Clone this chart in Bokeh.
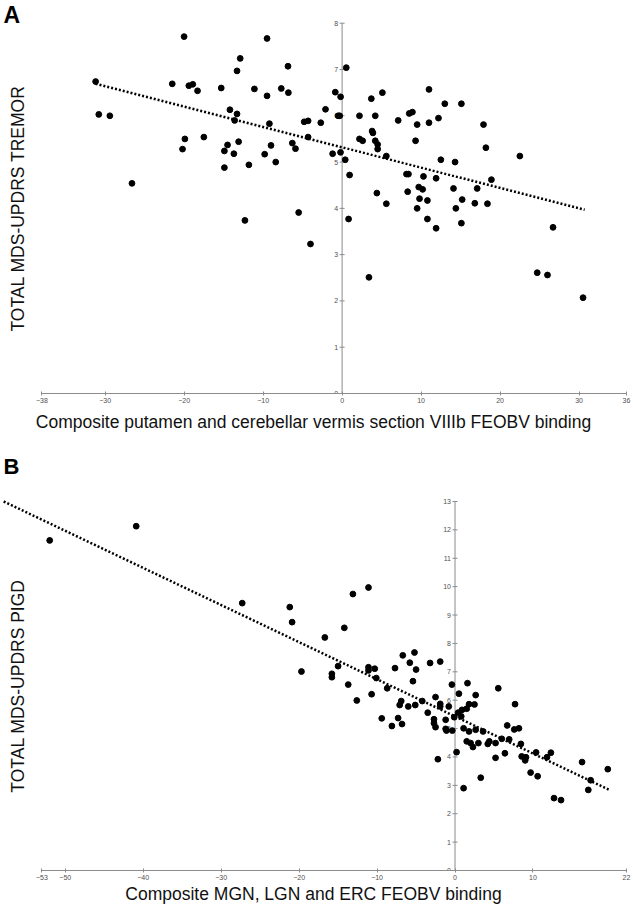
import math
from bokeh.plotting import figure
from bokeh.models import Range1d, LinearAxis, FixedTicker, Label
from bokeh.layouts import column
from bokeh.embed import file_html
from bokeh.resources import INLINE

# ---------------- Panel A data ----------------
A_x = [-20.0, -31.2, -21.5, -19.4, -18.9, -18.3, -30.8, -29.4, -19.9, -17.5, -20.2, -26.6,
       -9.5, -12.9, -13.3, -6.85, 0.53, -15.3, -11.1, -7.7, -9.5, -6.8, -0.86, -0.19,
       -14.2, -13.3, -13.6, -2.1, -9.2, -4.8, -4.3, -2.7, -0.5, -0.3, -4.3, -14.5,
       -14.9, -13.1, -13.7, -9.0, -9.8, -6.3, -5.9, -1.2, -0.2, 0.4, -14.9, -11.8,
       -8.4, 0.95, -12.3, -5.5, 0.82, -4.0,
       11.0, 5.1, 3.7, 13.0, 15.1, 2.2, 4.2, 7.1, 8.5, 8.9, 9.5, 11.0, 12.2, 17.9,
       3.8, 3.9, 2.2, 2.6, 4.2, 4.5, 4.5, 9.3, 5.6, 18.2, 12.5, 14.3, 8.15, 8.4,
       10.3, 11.9, 18.9, 9.7, 10.2, 14.1, 17.1, 4.4, 8.3, 9.8, 10.8, 15.2, 5.6, 9.5,
       14.4, 16.8, 18.4, 10.8, 11.9, 15.1, 3.4,
       22.5, 24.7, 26.0, 26.7, 30.5]
A_y = [7.71, 6.74, 6.69, 6.65, 6.68, 6.54, 6.03, 6.0, 5.50, 5.54, 5.28, 4.54,
       7.67, 7.24, 6.97, 7.07, 7.04, 6.60, 6.58, 6.59, 6.43, 6.50, 6.51, 6.41,
       6.13, 6.04, 5.90, 6.14, 5.83, 5.87, 5.89, 5.85, 6.0, 6.0, 5.54, 5.37,
       5.24, 5.44, 5.18, 5.36, 5.17, 5.41, 5.29, 5.18, 5.21, 5.05, 4.88, 4.94,
       5.0, 4.72, 3.74, 3.91, 3.77, 3.23,
       6.57, 6.50, 6.37, 6.26, 6.26, 6.0, 6.0, 5.90, 6.05, 6.08, 5.81, 5.85, 5.95, 5.81,
       5.67, 5.63, 5.50, 5.46, 5.46, 5.38, 5.28, 5.46, 5.13, 5.31, 5.05, 5.0, 4.74, 4.74,
       4.69, 4.65, 4.62, 4.46, 4.41, 4.43, 4.43, 4.33, 4.36, 4.21, 4.17, 4.19, 4.10, 4.0,
       4.0, 4.11, 4.10, 3.77, 3.57, 3.68, 2.51,
       5.13, 2.61, 2.56, 3.59, 2.07]
A_fit_x = [-31.2, 30.7]
A_fit_y = [6.69, 3.97]
A_xticks = [-38, -30, -20, -10, 0, 10, 20, 30, 36]
A_yticks = [0, 1, 2, 3, 4, 5, 6, 7, 8]
A_xlabel = "Composite putamen and cerebellar vermis section VIIIb FEOBV binding"
A_ylabel = "TOTAL MDS-UPDRS TREMOR"

# ---------------- Panel B data ----------------
B_x = [-52.0, -40.9, -27.3, -21.2, -20.9, -13.1, -11.1, -14.2, -16.7, -6.7, -5.2,
       -19.7, -15.8, -15.8, -15.0, -13.7, -12.6, -11.1, -11.1, -10.3, -10.1, -10.7, -8.7,
       -7.7, -5.8, -5.0, -5.4, -3.2, -1.9, -9.4, -8.1, -7.3, -6.8, -7.1, -6.9, -6.0, -5.1,
       -4.2, -3.5, -2.7, -2.7, -2.5, -2.5, -1.9, -1.9, -2.2, -0.8, -1.2, -1.2, -1.1, -0.35,
       -0.4, -0.1, 0.2, 0.4, 0.5, 0.9, 0.8, 1.1, 1.1, 1.5, 1.6, 1.8, 1.8, 1.5, 2.0, 2.3,
       2.5, 2.65, 2.65, 3.0, 3.3, 3.6, 4.2, 4.4, 5.2, 5.2, 5.55, 6.0, 6.4, 6.7, 6.95, 7.6,
       8.2, 7.7, 8.45, 8.55, 9.0, 9.1, 9.7, 10.4, 10.6, 11.8, 12.3, 12.7, 13.6, 16.3, 17.1,
       17.4, 19.6]
B_y = [11.63, 12.13, 9.42, 9.28, 8.75, 9.74, 9.97, 8.55, 8.21, 7.58, 7.68,
       7.01, 6.93, 6.81, 7.2, 6.55, 5.99, 7.16, 7.05, 7.11, 6.78, 6.21, 6.42,
       7.13, 7.32, 7.08, 6.67, 7.31, 7.36, 5.36, 5.09, 5.37, 5.16, 5.83, 5.97, 5.78, 5.83,
       5.97, 5.56, 5.33, 5.19, 5.05, 6.11, 5.87, 5.78, 3.92, 5.78, 5.31, 4.99, 4.93, 4.93,
       6.55, 5.40, 4.17, 5.56, 6.23, 5.66, 5.43, 5.01, 2.90, 5.70, 6.60, 5.86, 4.90, 4.55, 4.49, 4.35,
       5.85, 6.18, 4.96, 4.49, 3.27, 4.90, 4.46, 4.55, 3.97, 4.49, 6.42, 4.64, 4.13, 5.11, 4.62, 4.97,
       5.01, 5.86, 4.46, 4.02, 3.88, 3.99, 3.45, 4.16, 3.32, 3.99, 4.15, 2.55, 2.48, 3.82, 2.84,
       3.18, 3.57]
B_fit_x = [-57.9, 19.8]
B_fit_y = [13.0, 2.84]
B_xticks = [-53, -50, -40, -30, -20, -10, 0, 10, 22]
B_yticks = list(range(0, 14))
B_xlabel = "Composite MGN, LGN and ERC FEOBV binding"
B_ylabel = "TOTAL MDS-UPDRS PIGD"

FONT = "Liberation Sans"
AXIS_COLOR = "#8c8c8c"
TICK_TEXT = "#505050"
LABEL_SIZE = "17.5px"
W = 633
AXIS_LEFT_PX = 41.4   # screen x of the first x tick
FRAME_RIGHT_PX = 626  # screen x of the last x tick


def style_xaxis(ax, label, standoff):
    ax.axis_label = label
    ax.axis_label_text_font = FONT
    ax.axis_label_text_font_size = LABEL_SIZE
    ax.axis_label_text_font_style = "normal"
    ax.axis_label_text_color = "#111111"
    ax.axis_label_standoff = standoff
    ax.axis_line_color = AXIS_COLOR
    ax.major_tick_line_color = AXIS_COLOR
    ax.major_tick_in = 2
    ax.major_tick_out = 2
    ax.minor_tick_line_color = None
    ax.major_label_text_font = FONT
    ax.major_label_text_font_size = "7px"
    ax.major_label_text_color = TICK_TEXT
    ax.major_label_standoff = 2


def center_yaxis(p, ticks):
    n = len(ticks)
    p.segment(x0=[0], y0=[ticks[0]], x1=[0], y1=[ticks[-1]], line_color=AXIS_COLOR, line_width=1)
    p.scatter(x=[0] * n, y=ticks, marker="dash", size=5, line_color=AXIS_COLOR, line_width=1)
    p.text(x=[0] * n, y=ticks, text=[str(t) for t in ticks], x_offset=-4,
           text_align="right", text_baseline="middle", text_font_size="7px",
           text_color=TICK_TEXT, text_font={"value": FONT})


def make_panel(xs, ys, fit_x, fit_y, xticks, yticks, xlabel, ylabel, letter,
               height, top_tick_px, bottom_px, label_standoff, letter_top_px, letter_size):
    # horizontal scale: first tick at AXIS_LEFT_PX, last tick at FRAME_RIGHT_PX
    sx = (FRAME_RIGHT_PX - AXIS_LEFT_PX) / (xticks[-1] - xticks[0])
    x_start = xticks[0] - AXIS_LEFT_PX / sx
    # vertical scale: top tick at top_tick_px, zero at bottom_px (frame bottom)
    sy = (bottom_px - top_tick_px) / (yticks[-1] - yticks[0])
    y_end = yticks[-1] + top_tick_px / sy
    p = figure(width=W, height=height, x_range=Range1d(x_start, xticks[-1]),
               y_range=Range1d(yticks[0], y_end), output_backend="svg",
               toolbar_location=None, x_axis_location=None, y_axis_location=None,
               min_border_left=0, min_border_right=W - FRAME_RIGHT_PX, min_border_top=0,
               min_border_bottom=height - bottom_px)
    p.grid.visible = False
    p.outline_line_color = None
    xa = LinearAxis(ticker=FixedTicker(ticks=xticks), bounds=(xticks[0], xticks[-1]))
    style_xaxis(xa, xlabel, label_standoff)
    p.add_layout(xa, "below")
    center_yaxis(p, yticks)
    p.line(fit_x, fit_y, line_color="black", line_width=2.5, line_dash="2 2")
    p.scatter(xs, ys, size=5.8, color="black")
    # rotated y-axis title, centred on the tick span
    p.add_layout(Label(x=x_start + 17.5 / sx, y=(yticks[0] + yticks[-1]) / 2,
                       text=ylabel, angle=math.pi / 2, text_font=FONT,
                       text_font_size=LABEL_SIZE, text_color="#111111",
                       text_align="center", text_baseline="middle"))
    # panel letter
    p.add_layout(Label(x=x_start + 3 / sx, y=y_end - letter_top_px / sy,
                       text=letter, text_font=FONT, text_font_size=letter_size,
                       text_font_style="bold", text_color="black",
                       text_align="left", text_baseline="top"))
    return p


pA = make_panel(A_x, A_y, A_fit_x, A_fit_y, A_xticks, A_yticks, A_xlabel, A_ylabel, "A",
                height=440, top_tick_px=22.7, bottom_px=393, label_standoff=6,
                letter_top_px=1, letter_size="23px")
pB = make_panel(B_x, B_y, B_fit_x, B_fit_y, B_xticks, B_yticks, B_xlabel, B_ylabel, "B",
                height=477, top_tick_px=61, bottom_px=430, label_standoff=1,
                letter_top_px=13, letter_size="22px")

layout = column(pA, pB)
open("out.html", "w").write(file_html(layout, INLINE))
